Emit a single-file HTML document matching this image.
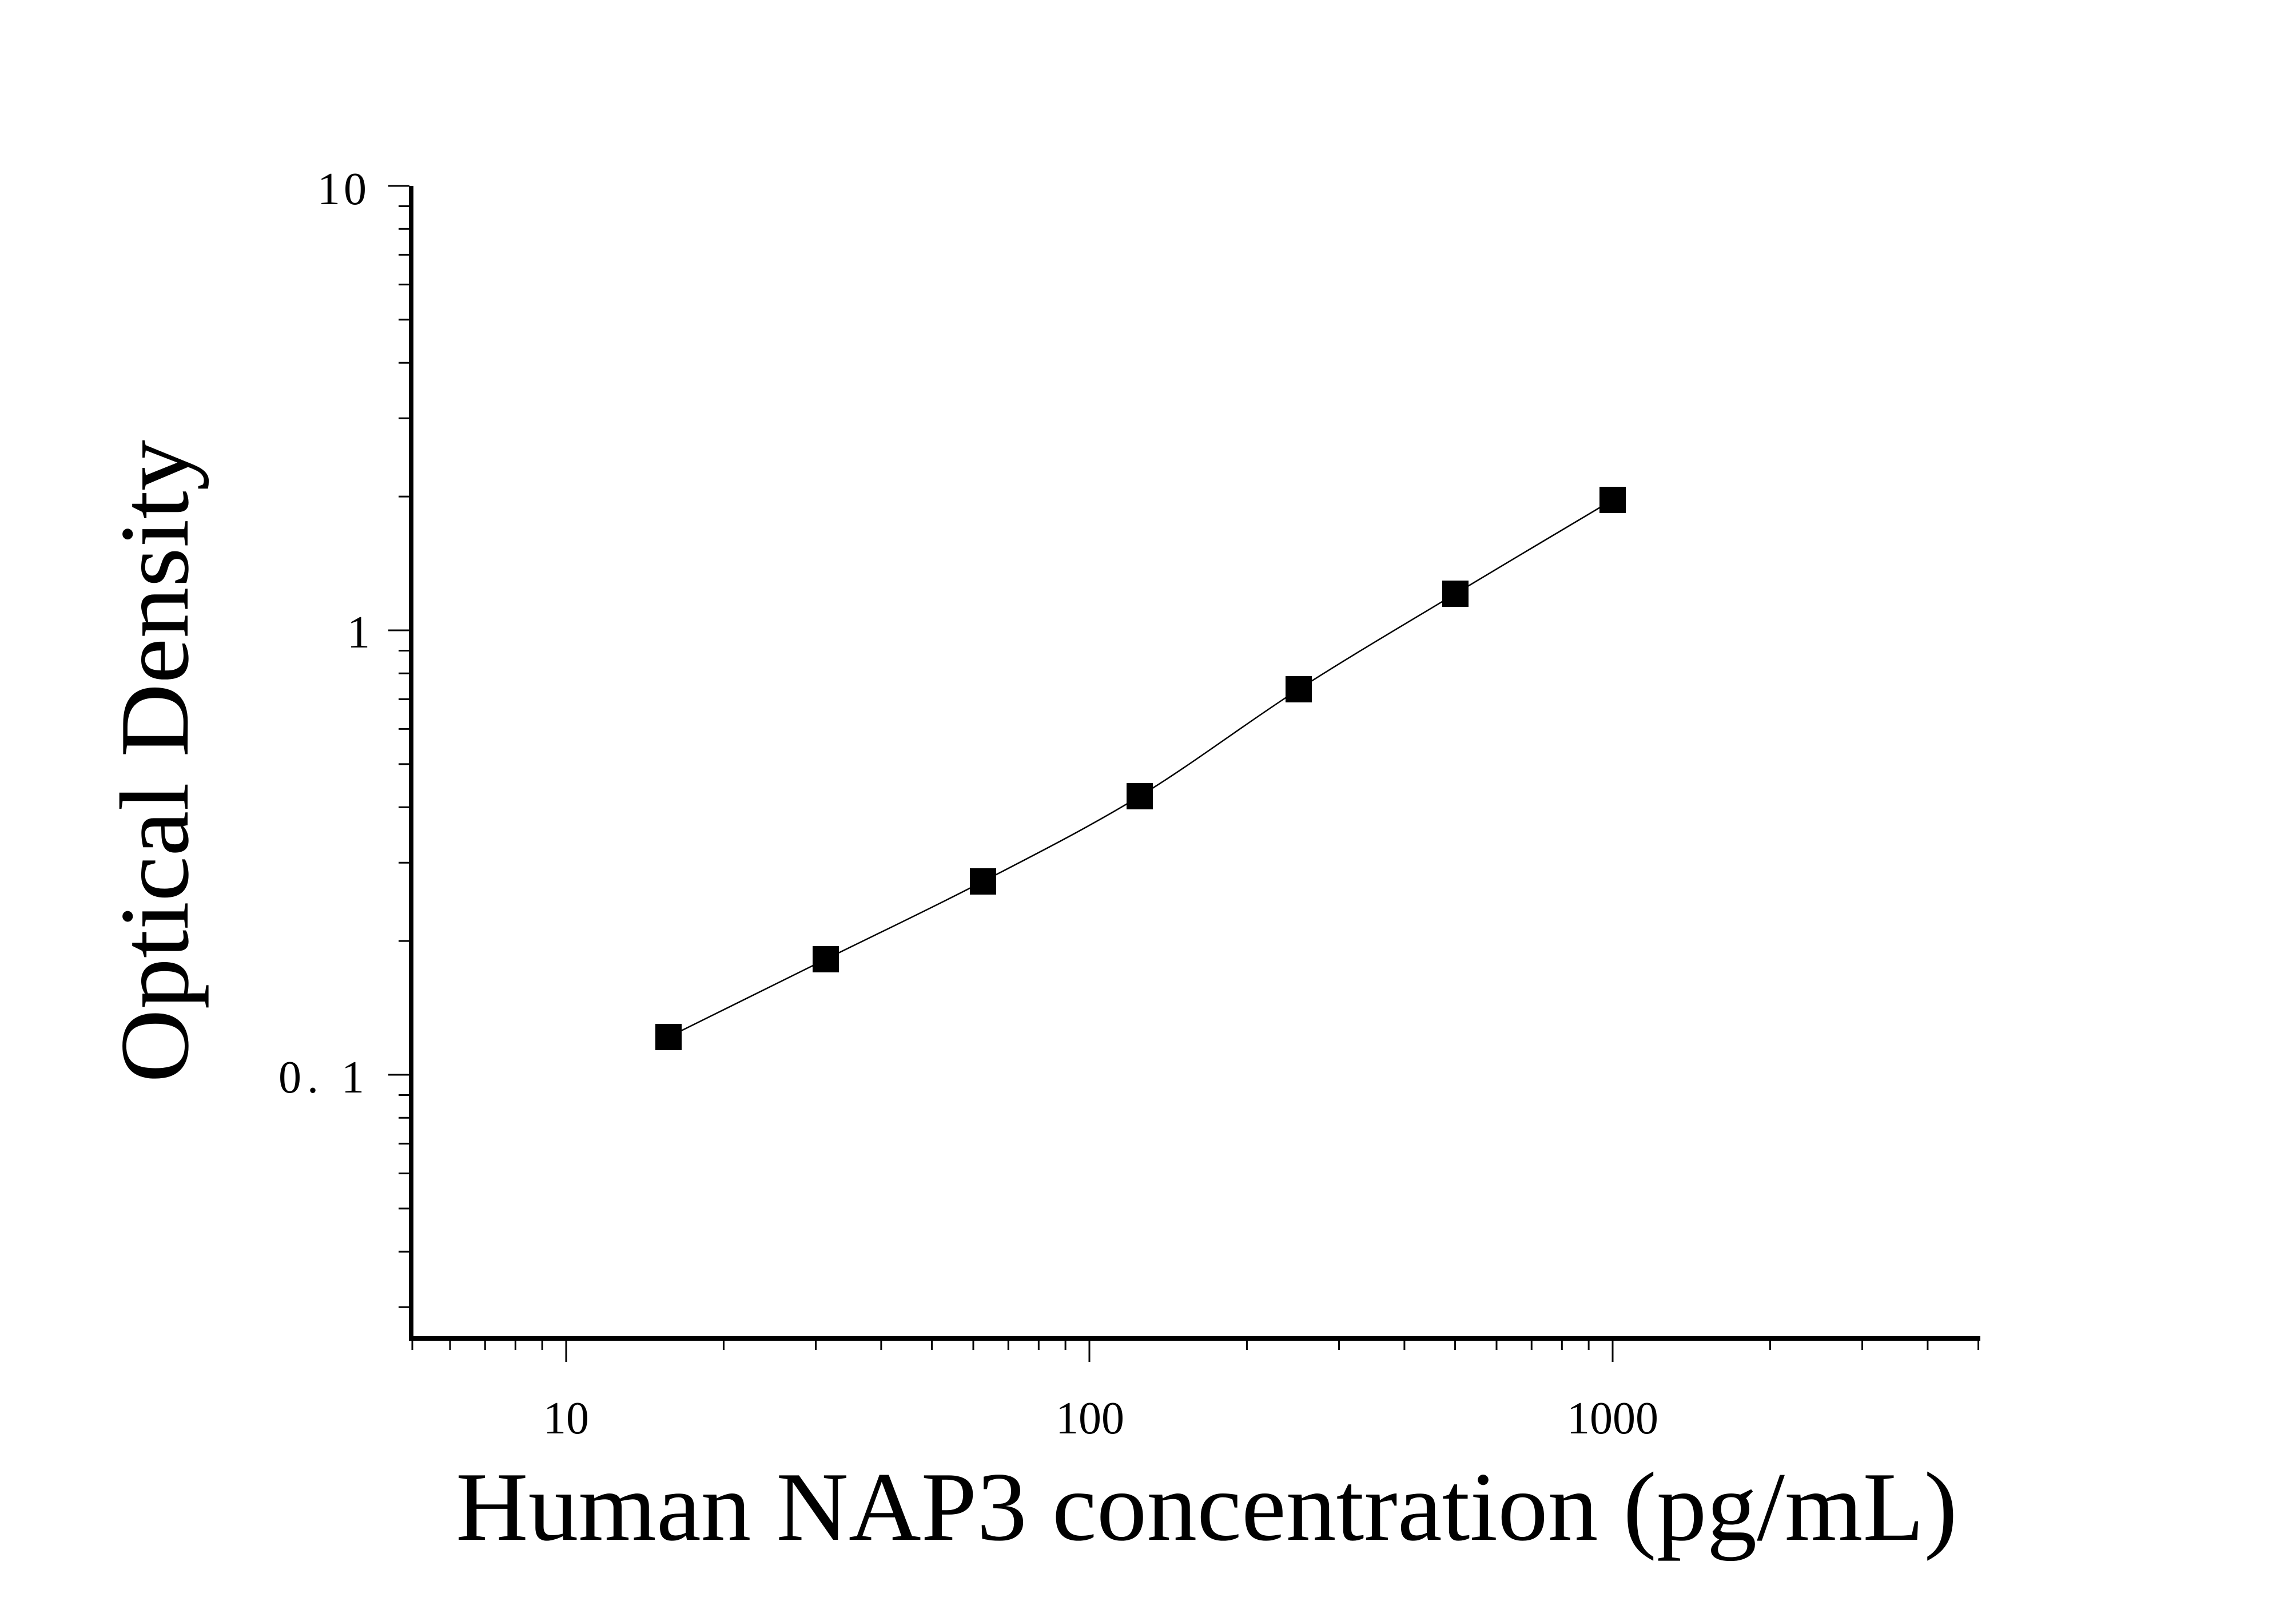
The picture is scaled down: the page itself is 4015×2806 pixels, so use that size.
<!DOCTYPE html>
<html><head><meta charset="utf-8"><style>
html,body{margin:0;padding:0;background:#fff;}
svg{display:block;}
text{font-family:"Liberation Serif",serif;fill:#000;}
</style></head><body>
<svg id="s" width="4015" height="2806" viewBox="0 0 4015 2806" xmlns="http://www.w3.org/2000/svg">
<rect width="4015" height="2806" fill="#fff"/>
<g id="ticks" stroke="#000" stroke-width="3"></g>
<rect x="715" y="325" width="8" height="2018" fill="#000"/>
<rect x="715" y="2336" width="2748" height="8" fill="#000"/>
<path id="curve" fill="none" stroke="#000" stroke-width="2.5" d=""/>
<g id="marks" fill="#000"></g>
<text x="647" y="357" font-size="80" text-anchor="end" letter-spacing="6">10</text>
<text x="647" y="1132" font-size="80" text-anchor="end">1</text>
<text x="647" y="1910" font-size="80" text-anchor="end" letter-spacing="10">0. 1</text>
<text x="990" y="2506" font-size="80" text-anchor="middle">10</text>
<text x="1906" y="2506" font-size="80" text-anchor="middle">100</text>
<text x="2820" y="2506" font-size="80" text-anchor="middle">1000</text>
<text x="797" y="2692" font-size="172" textLength="2626" lengthAdjust="spacingAndGlyphs">Human NAP3 concentration (pg/mL)</text>
<text transform="translate(328,1893) rotate(-90)" font-size="172" textLength="1124" lengthAdjust="spacingAndGlyphs">Optical Density</text>
</svg>
<script>
(function(){
var ns="http://www.w3.org/2000/svg",t=document.getElementById("ticks"),m=document.getElementById("marks");
function ln(x1,y1,x2,y2){var l=document.createElementNS(ns,"line");l.setAttribute("x1",x1);l.setAttribute("y1",y1);l.setAttribute("x2",x2);l.setAttribute("y2",y2);t.appendChild(l);}
function Y(v){return 1102-777*Math.log10(v);}
function X(v){return 990+915*(Math.log10(v)-1);}
[10,1,0.1].forEach(function(v){ln(679,Y(v),716,Y(v));});
[0.03,0.04,0.05,0.06,0.07,0.08,0.09,0.2,0.3,0.4,0.5,0.6,0.7,0.8,0.9,2,3,4,5,6,7,8,9].forEach(function(v){ln(697,Y(v),716,Y(v));});
[10,100,1000].forEach(function(v){ln(X(v),2343,X(v),2381);});
[5,6,7,8,9,20,30,40,50,60,70,80,90,200,300,400,500,600,700,800,900,2000,3000,4000,5000].forEach(function(v){var x=Math.min(Math.max(X(v),721),3461);ln(x,2343,x,2360);});
var P=[[1169,1813],[1444,1677],[1719,1541],[1993,1392],[2271,1205],[2545,1038],[2820,874]];
var d="M"+P[0][0]+","+P[0][1];
for(var i=0;i<P.length-1;i++){var p0=P[Math.max(i-1,0)],p1=P[i],p2=P[i+1],p3=P[Math.min(i+2,P.length-1)];
d+=" C"+(p1[0]+(p2[0]-p0[0])/6)+","+(p1[1]+(p2[1]-p0[1])/6)+" "+(p2[0]-(p3[0]-p1[0])/6)+","+(p2[1]-(p3[1]-p1[1])/6)+" "+p2[0]+","+p2[1];}
document.getElementById("curve").setAttribute("d",d);
P.forEach(function(p){var r=document.createElementNS(ns,"rect");r.setAttribute("x",p[0]-23);r.setAttribute("y",p[1]-23);r.setAttribute("width",46);r.setAttribute("height",46);m.appendChild(r);});
})();
</script>
</body></html>
